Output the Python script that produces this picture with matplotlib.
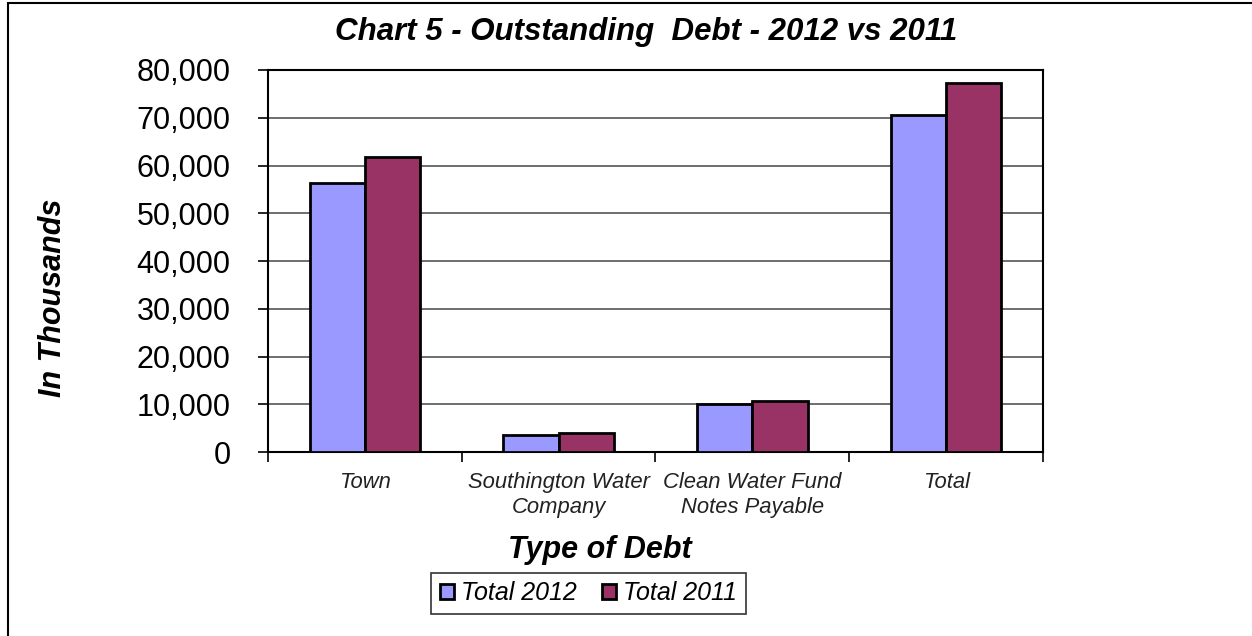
import numpy as np
import matplotlib.pyplot as plt
from matplotlib.patches import Rectangle

categories = ['Town', 'Southington Water\nCompany', 'Clean Water Fund\nNotes Payable', 'Total']
total_2012 = [56300, 3600, 10000, 70500]
total_2011 = [61700, 4100, 10700, 77200]

plt.rcParams['font.family'] = ['Liberation Sans', 'DejaVu Sans']

fig = plt.figure(figsize=(12.52, 6.36), dpi=100)
ax = fig.add_axes([0.214, 0.289, 0.619, 0.601])

x = np.arange(len(categories))
width = 0.285
ax.bar(x - width / 2, total_2012, width=width, color='#9999ff', edgecolor='black', linewidth=2, label='Total 2012', zorder=3)
ax.bar(x + width / 2, total_2011, width=width, color='#993366', edgecolor='black', linewidth=2, label='Total 2011', zorder=3)

ax.set_xlim(-0.5, len(categories) - 0.5)
ax.set_ylim(0, 80000)
ax.set_yticks(np.arange(0, 80001, 10000))
ax.set_yticklabels(['{:,}'.format(v) for v in range(0, 80001, 10000)], fontsize=22)
ax.yaxis.grid(True, color='#555555', linewidth=1.2, zorder=0)

ax.set_xticks(x)
ax.set_xticklabels(categories, fontsize=15.8, style='italic', color='#222222', linespacing=1.3)
ax.set_xticks(np.arange(-0.5, len(categories)), minor=True)
ax.tick_params(axis='x', which='major', length=0, pad=14)
ax.tick_params(axis='x', which='minor', length=7, width=1.2, direction='out')
ax.tick_params(axis='y', length=7, width=1.2, direction='out', pad=20)

for s in ax.spines.values():
    s.set_linewidth(1.5)

fig.text(0.516, 0.950, 'Chart 5 - Outstanding  Debt - 2012 vs 2011', fontsize=22.5,
         fontweight='bold', style='italic', ha='center', va='center')
ax.set_ylabel('In Thousands', fontsize=22, fontweight='bold', style='italic')
ax.yaxis.set_label_coords(-0.258, 0.405)
ax.set_xlabel('Type of Debt', fontsize=22, fontweight='bold', style='italic')
ax.xaxis.set_label_coords(0.428, -0.217)

leg = fig.legend(loc='center', bbox_to_anchor=(0.47, 0.067), ncol=2,
                 prop={'style': 'italic', 'size': 18}, frameon=True, fancybox=False,
                 edgecolor='black', handlelength=0.55, handleheight=0.55, handletextpad=0.3,
                 columnspacing=1.0, borderpad=0.35)
leg.get_frame().set_linewidth(1.2)

fig.patches.append(Rectangle((0.006, -0.01), 1.0, 1.005, transform=fig.transFigure,
                             fill=False, edgecolor='black', linewidth=1.5))

fig.savefig('out.png', dpi=100)
